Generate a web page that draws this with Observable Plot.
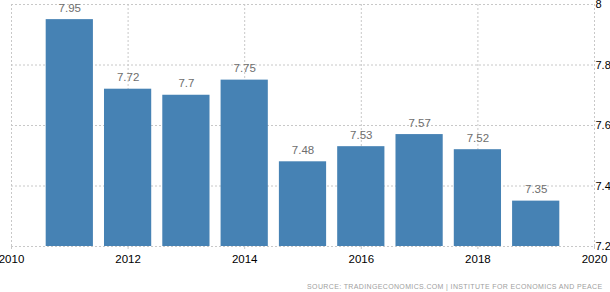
<!DOCTYPE html>
<html>
<head>
<meta charset="utf-8">
<script src="https://cdn.jsdelivr.net/npm/d3@7"></script>
<script src="https://cdn.jsdelivr.net/npm/@observablehq/plot@0.6"></script>
<style>
  html, body { margin: 0; padding: 0; background: #fff; }
  #chart svg { display: block; }
  .src text { letter-spacing: 0.36px; }
</style>
</head>
<body>
<div id="chart"></div>
<script>
const years = [2011, 2012, 2013, 2014, 2015, 2016, 2017, 2018, 2019];
const values = [7.95, 7.72, 7.7, 7.75, 7.48, 7.53, 7.57, 7.52, 7.35];
const valueLabels = ["7.95", "7.72", "7.7", "7.75", "7.48", "7.53", "7.57", "7.52", "7.35"];
const xTicks = [2010, 2012, 2014, 2016, 2018, 2020];
const yTicks = [7.2, 7.4, 7.6, 7.8, 8];
const sourceText = "SOURCE: TRADINGECONOMICS.COM | INSTITUTE FOR ECONOMICS AND PEACE";

const data = years.map((y, i) => ({ year: y, value: values[i], label: valueLabels[i] }));
const grid = "#c8c8c8";

const chart = Plot.plot({
  width: 610,
  height: 292,
  marginLeft: 11,
  marginRight: 16,
  marginTop: 4,
  marginBottom: 46,
  style: { fontFamily: "'Liberation Sans', Arial, sans-serif", background: "#fff", overflow: "visible" },
  x: { domain: [2010, 2020] },
  y: { domain: [7.2, 8] },
  marks: [
    Plot.gridX(xTicks, { stroke: grid, strokeOpacity: 1, strokeDasharray: "2,2" }),
    Plot.gridY(yTicks, { stroke: grid, strokeOpacity: 1, strokeDasharray: "2,2" }),
    Plot.rectY(data, { x1: d => d.year - 0.405, x2: d => d.year + 0.405, y1: 7.2, y2: "value", fill: "#4682b4" }),
    Plot.text(data, { x: "year", y: "value", text: "label", dy: -11.5, fill: "#6e6e6e", fontSize: 11.5 }),
    Plot.axisX(xTicks, { tickSize: 3, stroke: grid, tickPadding: 5, fontSize: 11.5, fill: "#000", tickFormat: d => String(d), label: null }),
    Plot.axisY(yTicks, { anchor: "right", tickSize: 0, tickPadding: 1, fontSize: 11, fill: "#000", tickFormat: d => String(d), label: null }),
    Plot.text([sourceText], { className: "src", frameAnchor: "bottom-right", text: d => d, dx: 8, dy: 42, fontSize: 7, fill: "#a0a0a0", textAnchor: "end" })
  ]
});
document.getElementById("chart").appendChild(chart);
</script>
</body>
</html>
